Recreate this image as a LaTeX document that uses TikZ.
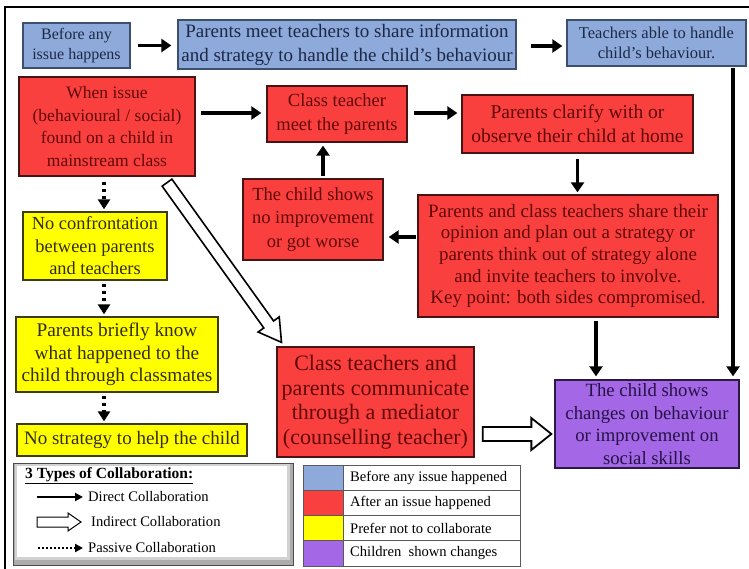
\documentclass[tikz,border=0pt]{standalone}
\usepackage{fontspec}
\setmainfont{Liberation Serif}
\usetikzlibrary{arrows.meta,calc}
\definecolor{cblue}{RGB}{142,170,219}
\definecolor{cblueD}{RGB}{60,80,110}
\definecolor{cblueT}{RGB}{28,40,70}
\definecolor{cred}{RGB}{250,64,62}
\definecolor{credD}{RGB}{70,20,20}
\definecolor{credT}{RGB}{96,8,8}
\definecolor{cyel}{RGB}{255,255,0}
\definecolor{cyelD}{RGB}{60,60,20}
\definecolor{cyelT}{RGB}{50,45,20}
\definecolor{cpur}{RGB}{164,104,230}
\definecolor{cpurD}{RGB}{45,25,70}
\definecolor{cpurT}{RGB}{38,18,70}
\newcommand\hollowarrow[6]{%
  \coordinate (#1-#2-h) at ($(#2)!#5!(#1)$);
  \draw[line width=#6, fill=white, line join=miter]
    ($(#1)!#3!-90:(#2)$) -- ($(#1-#2-h)!#3!-90:(#2)$) -- ($(#1-#2-h)!#4!-90:(#2)$)
    -- (#2) -- ($(#1-#2-h)!#4!90:(#2)$) -- ($(#1-#2-h)!#3!90:(#2)$) -- ($(#1)!#3!90:(#2)$) -- cycle;}
\begin{document}
\begin{tikzpicture}[x=1pt,y=-1pt,
  box/.style={draw, line width=1.3pt, align=center, inner sep=0pt},
  bluebox/.style={box, fill=cblue, draw=cblueD, text=cblueT},
  redbox/.style={box, fill=cred, draw=credD, text=credT},
  yelbox/.style={box, fill=cyel, draw=cyelD, text=cyelT},
  purbox/.style={box, fill=cpur, draw=cpurD, text=cpurT},
  direct/.style={line width=3.8pt, -{Triangle[length=10pt,width=13pt]}},
  passive/.style={line width=3.8pt, dash pattern=on 3.5pt off 3.5pt, -{Triangle[length=10pt,width=12pt]}},
  ldirect/.style={line width=2pt, -{Triangle[length=8pt,width=8pt]}},
  lpassive/.style={line width=2pt, dash pattern=on 2pt off 2pt, -{Triangle[length=8pt,width=8pt]}},
  legtext/.style={anchor=west, inner sep=0pt, font=\fontsize{14.6}{16}\selectfont}]
\useasboundingbox (0,0) rectangle (749,569);
\fill[white] (0,0) rectangle (749,569);
\draw[line width=2pt] (5,575) -- (5,7) -- (755,7);

% top row
\node[bluebox, font=\fontsize{16}{19.5}\selectfont, minimum width=107, minimum height=45] (b1) at (76.5,45.5) {Before any\\issue happens};
\node[bluebox, font=\fontsize{19}{24}\selectfont, minimum width=338, minimum height=49] (b2) at (347,44.5) {Parents meet teachers to share information\\and strategy to handle the child’s behaviour};
\node[bluebox, font=\fontsize{16.5}{20}\selectfont, minimum width=179, minimum height=46] (b3) at (656.5,43) {Teachers able to handle\\child’s behaviour.};

% red boxes
\node[redbox, font=\fontsize{17.5}{22.5}\selectfont, minimum width=176, minimum height=99] (issue) at (107,126.5) {When issue\\(behavioural / social)\\found on a child in\\mainstream class};
\node[redbox, font=\fontsize{18.5}{24}\selectfont, minimum width=140, minimum height=56] (ct) at (337,114) {Class teacher\\meet the parents};
\node[redbox, font=\fontsize{19.5}{24}\selectfont, minimum width=231, minimum height=58] (clar) at (577.5,124) {Parents clarify with or\\observe their child at home};
\node[redbox, font=\fontsize{18.9}{21.7}\selectfont, minimum width=300, minimum height=122] (share) at (568,256) {Parents and class teachers share their\\opinion and plan out a strategy or\\parents think out of strategy alone\\and invite teachers to involve.\\Key point: both sides compromised.};
\node[redbox, font=\fontsize{18.5}{23.5}\selectfont, minimum width=140, minimum height=81] (worse) at (313,219.5) {The child shows\\no improvement\\or got worse};
\node[redbox, font=\fontsize{22}{24.5}\selectfont, minimum width=197, minimum height=110] (med) at (375.5,402) {Class teachers and\\parents communicate\\through a mediator\\(counselling teacher)};
\node[purbox, font=\fontsize{18.7}{22.5}\selectfont, minimum width=184, minimum height=88] (pur) at (647,424) {The child shows\\changes on behaviour\\or improvement on\\social skills};

% yellow boxes
\node[yelbox, font=\fontsize{18.4}{22.5}\selectfont, minimum width=144, minimum height=68] (y1) at (95,246) {No confrontation\\between parents\\and teachers};
\node[yelbox, font=\fontsize{19.3}{22.5}\selectfont, minimum width=202, minimum height=75] (y2) at (117,354.5) {Parents briefly know\\what happened to the\\child through classmates};
\node[yelbox, font=\fontsize{19}{22.5}\selectfont, minimum width=230, minimum height=32] (y3) at (132,440) {No strategy to help the child};

% direct connectors
\draw[direct, shorten <=7pt, shorten >=6pt] (b1.east) -- (b1.east -| b2.west);
\draw[direct, shorten <=14pt, shorten >=4pt] ([yshift=-1.5pt]b2.east) -- ([yshift=-1.5pt]b2.east -| b3.west);
\draw[direct, shorten <=5pt, shorten >=5pt] ([yshift=13.5pt]issue.east) -- ([yshift=13.5pt]issue.east -| ct.west);
\draw[direct, shorten <=6pt, shorten >=4pt] ([yshift=1pt]ct.east) -- ([yshift=1pt]ct.east -| clar.west);
\draw[direct, shorten <=5pt, shorten >=2pt] (clar.south) -- (clar.south |- share.north);
\draw[direct, shorten <=1pt, shorten >=5pt] ([yshift=19pt]share.west) -- ([yshift=19pt]share.west -| worse.east);
\draw[direct, shorten <=2pt, shorten >=3pt] ([xshift=10pt]worse.north) -- ([xshift=10pt]worse.north |- ct.south);
\draw[direct, shorten <=3pt, shorten >=3pt] ([xshift=28pt]share.south) -- ([xshift=28pt]share.south |- pur.north);
\draw[direct, shorten <=1pt, shorten >=3pt] ([xshift=76.5pt]b3.south) -- ([xshift=76.5pt]b3.south |- pur.north);

% passive connectors
\coordinate (dx) at (104,0);
\draw[passive, shorten <=5pt, shorten >=2pt] (issue.south -| dx) -- (y1.north -| dx);
\draw[passive, shorten <=3pt, shorten >=2pt] (y1.south -| dx) -- (y2.north -| dx);
\draw[passive, shorten <=3pt, shorten >=2pt] (y2.south -| dx) -- (y3.north -| dx);

% indirect connectors
\coordinate (d1) at ([xshift=60pt,yshift=-6pt]issue.south);
\coordinate (d2) at ([xshift=-94pt,yshift=4pt]med.north);
\hollowarrow{d1}{d2}{6pt}{13pt}{22pt}{1.6pt}
\coordinate (h1) at ([xshift=8pt,yshift=-32pt]med.east);
\coordinate (h2) at ([xshift=-3pt,yshift=-32pt]med.east -| pur.west);
\hollowarrow{h1}{h2}{7pt}{16pt}{20pt}{1.8pt}

% legend 1
\fill[gray!65] (13,463) rectangle (293,565);
\fill[gray!35] (15,464) rectangle (290,560);
\fill[white] (17,466) rectangle (287,557);
\draw[gray!60!black, line width=0.6pt] (13,463) rectangle (293,565);
\node[anchor=west, inner sep=0pt, font=\bfseries\fontsize{15.5}{16}\selectfont] (lt) at (25,476) {\underline{3 Types of Collaboration:}};
\coordinate (la1) at (37,497); \coordinate (la2) at (83,497);
\draw[ldirect] (la1) -- (la2);
\node[legtext] (l1) at (88,497) {Direct Collaboration};
\coordinate (lb1) at (37,522); \coordinate (lb2) at (81,522);
\hollowarrow{lb1}{lb2}{5pt}{9pt}{13pt}{1pt}
\node[legtext] (l2) at (91,522) {Indirect Collaboration};
\coordinate (lc1) at (38,548); \coordinate (lc2) at (83,548);
\draw[lpassive] (lc1) -- (lc2);
\node[legtext] (l3) at (88,548) {Passive Collaboration};

% legend 2
\fill[cblue] (303,465) rectangle (343,490);
\fill[cred] (303,490) rectangle (343,515);
\fill[cyel] (303,515) rectangle (343,540);
\fill[cpur] (303,540) rectangle (343,566);
\draw[gray!70!black, line width=0.8pt] (303,465) rectangle (520,566);
\draw[gray!70!black, line width=0.8pt] (343,465) -- (343,566) (303,490) -- (520,490) (303,515) -- (520,515) (303,540) -- (520,540);
\node[legtext] (k1) at (350,478) {Before any issue happened};
\node[legtext] (k2) at (350,503) {After an issue happened};
\node[legtext] (k3) at (350,528) {Prefer not to collaborate};
\node[legtext] (k4) at (350,553) {Children~ shown changes};
\end{tikzpicture}
\end{document}
